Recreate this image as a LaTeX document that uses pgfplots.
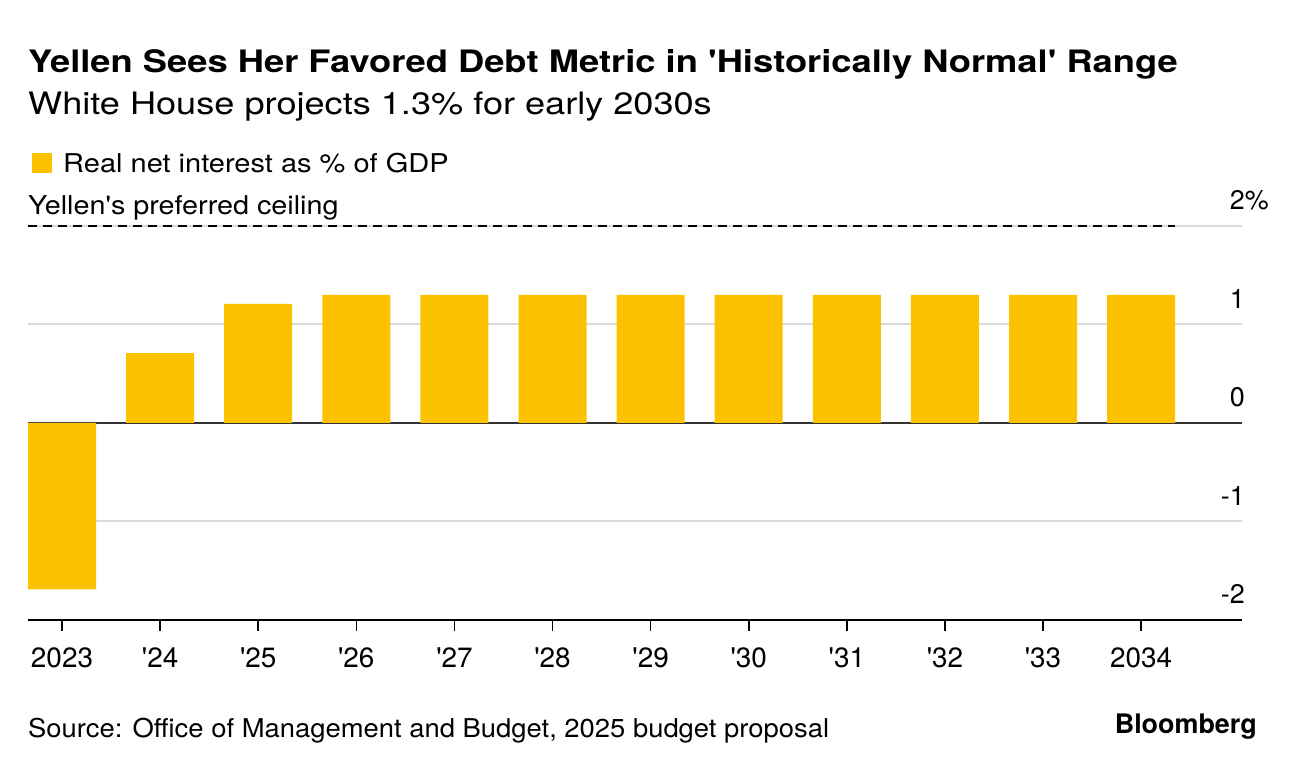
\documentclass[border=0pt]{standalone}
\usepackage{graphicx}
\usepackage{pgfplots}
\pgfplotsset{compat=1.18}
\usepackage{fontspec}
\setmainfont{TeX Gyre Heros}
\definecolor{barY}{RGB}{252,194,0}
\definecolor{gridG}{RGB}{218,218,218}
\newcommand\q{\textquotesingle}
\begin{document}
\begin{tikzpicture}
\path[use as bounding box] (0,0) rectangle (1296bp,770bp);
\begin{axis}[
  at={(28bp,150bp)}, anchor=south west,
  scale only axis, width=1214bp, height=394bp,
  xmin=-0.3466, xmax=12.028, ymin=-2, ymax=2,
  clip=false,
  axis x line*=bottom, axis y line*=right,
  y axis line style={draw=none},
  x axis line style={black, line width=2bp, -},
  xtick={0,...,11},
  xticklabels={2023,\q24,\q25,\q26,\q27,\q28,\q29,\q30,\q31,\q32,\q33,2034},
  xtick style={black, line width=1.6bp},
  tick align=outside, major tick length=11bp,
  xticklabel style={anchor=north, inner sep=0pt, yshift=-17bp, font=\fontsize{28}{30}\selectfont},
  ytick={-2,-1,1,2},
  yticklabels={-2,-1,1,2\rlap{\%}},
  ytick style={draw=none},
  yticklabel style={anchor=south east, inner sep=0pt, xshift=-8bp, yshift=16bp, font=\fontsize{27}{30}\selectfont},
  extra y ticks={0}, extra y tick labels={0},
  extra y tick style={grid style={black!80, line width=1.6bp}},
  ymajorgrids, grid style={gridG, line width=2bp},
]
\addplot[ybar, bar width=68bp, fill=barY, draw=none, bar shift=0pt] coordinates {
  (0,-1.69) (1,0.71) (2,1.21) (3,1.3) (4,1.3) (5,1.3) (6,1.3)
  (7,1.3) (8,1.3) (9,1.3) (10,1.3) (11,1.3)
};
\addplot[black, line width=2.4bp, dash pattern=on 9bp off 6bp] coordinates {(-0.3466,2) (11.346,2)};
\end{axis}
\node[anchor=base west, inner sep=0pt, font=\bfseries\fontsize{31}{34}\selectfont] at (28bp,697bp) {\scalebox{1.176}[1]{Yellen Sees Her Favored Debt Metric in \q Historically Normal\q{} Range}};
\node[anchor=base west, inner sep=0pt, font=\fontsize{31}{34}\selectfont] at (28bp,655bp) {\scalebox{1.17}[1]{White House projects 1.3\% for early 2030s}};
\fill[barY] (32bp,597bp) rectangle (52bp,617bp);
\node[anchor=base west, inner sep=0pt, font=\fontsize{26}{30}\selectfont] at (63bp,597bp) {\scalebox{1.12}[1]{Real net interest as \% of GDP}};
\node[anchor=base west, inner sep=0pt, font=\fontsize{26}{30}\selectfont] at (28bp,555bp) {\scalebox{1.11}[1]{Yellen\q s preferred ceiling}};
\node[anchor=base west, inner sep=0pt, font=\fontsize{26}{30}\selectfont] at (28bp,33bp) {\scalebox{1.058}[1]{Source: Office of Management and Budget, 2025 budget proposal}};
\node[anchor=base east, inner sep=0pt, font=\bfseries\fontsize{27}{30}\selectfont] at (1257bp,37bp) {Bloomberg};
\end{tikzpicture}
\end{document}
